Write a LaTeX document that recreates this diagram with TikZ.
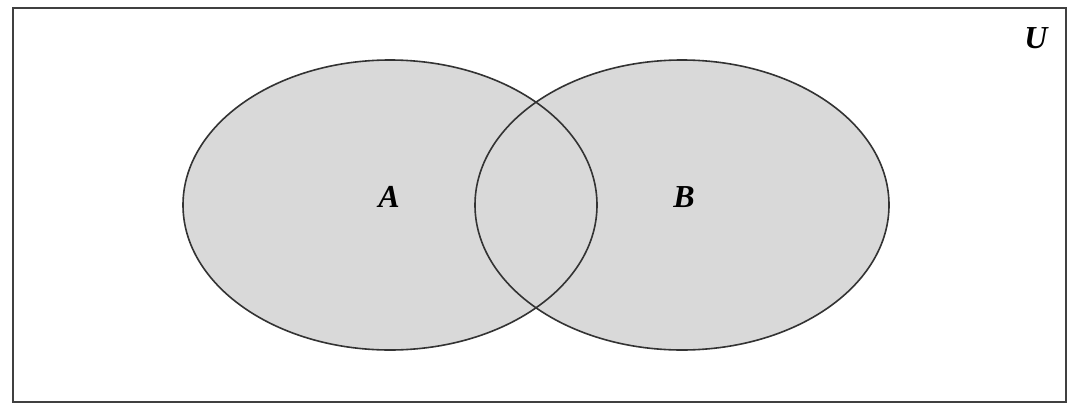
\documentclass[tikz,border=0pt]{standalone}
\usepackage{fontspec}
\setmainfont{Liberation Serif}
\begin{document}
\begin{tikzpicture}[x=1pt,y=-1pt,
  setfill/.style={fill=black!15, draw=black!80, line width=1.6pt},
  lbl/.style={font=\fontsize{32}{36}\selectfont\bfseries\itshape, inner sep=0pt}]
\useasboundingbox (0,0) rectangle (1074,405);
\fill[white] (0,0) rectangle (1074,405);
\draw[black!75, line width=2.2pt] (13,8) rectangle (1066,402);
\fill[black!15] (390,205) ellipse [x radius=207, y radius=145];
\fill[black!15] (682,205) ellipse [x radius=207, y radius=145];
\draw[black!80, line width=1.6pt] (390,205) ellipse [x radius=207, y radius=145];
\draw[black!80, line width=1.6pt] (682,205) ellipse [x radius=207, y radius=145];
\node[lbl] (A) at (389,197) {A};
\node[lbl] (B) at (684,197) {B};
\node[lbl] (U) at (1036,38) {U};
\end{tikzpicture}
\end{document}
